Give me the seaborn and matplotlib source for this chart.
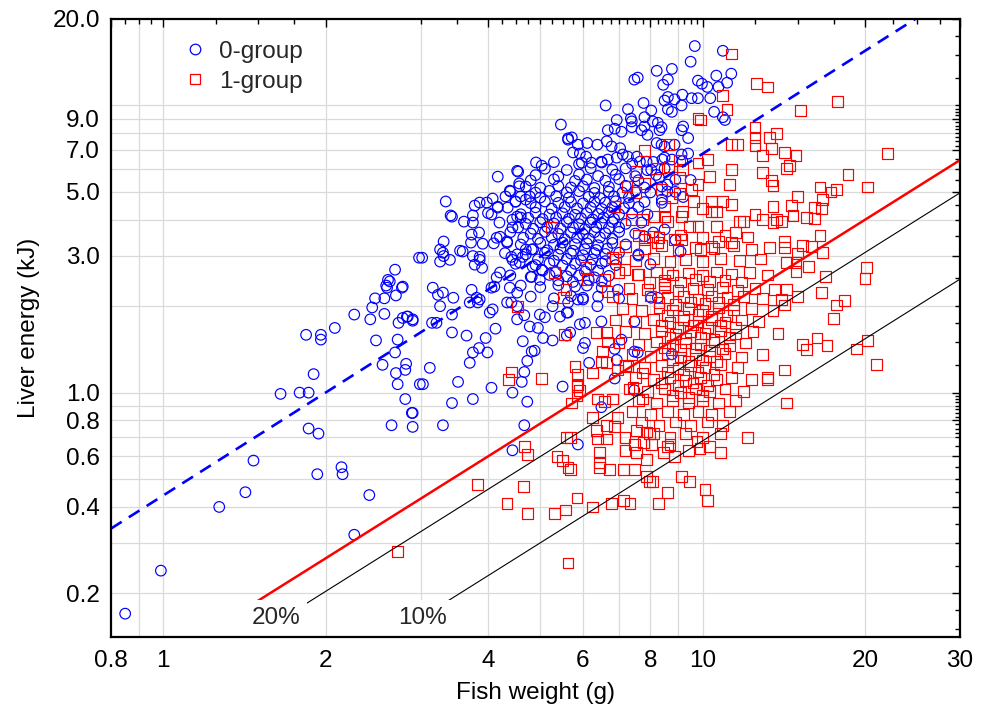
import numpy as np
import pandas as pd
import matplotlib
matplotlib.use("Agg")
import matplotlib.pyplot as plt
from matplotlib.lines import Line2D
from matplotlib.ticker import FixedLocator, FixedFormatter, NullFormatter
import seaborn as sns

# ---------------------------------------------------------------------------
# Data: (fish weight in g, liver energy in kJ)
# ---------------------------------------------------------------------------
group0_small = [
    (0.85, 0.17), (0.99, 0.24), (1.27, 0.40), (1.42, 0.45), (1.47, 0.58),
    (1.65, 0.99), (1.79, 1.00), (1.86, 1.00), (1.90, 1.16), (1.84, 1.59),
    (1.96, 1.59), (1.96, 1.53), (2.08, 1.68), (1.86, 0.75), (1.94, 0.72),
    (1.93, 0.52), (2.14, 0.55), (2.15, 0.52), (2.41, 0.44), (2.26, 0.32),
    (2.26, 1.87), (2.42, 1.80), (2.44, 1.98), (2.48, 1.52), (2.47, 2.13),
    (2.57, 2.13), (2.57, 1.88), (2.55, 1.25), (2.60, 2.32), (2.59, 2.36),
    (2.61, 2.47), (2.63, 2.44), (2.69, 2.68), (2.70, 2.18), (2.77, 2.32),
    (2.69, 1.38), (2.70, 1.17), (2.82, 1.26), (2.81, 1.20), (2.72, 1.53),
    (2.72, 1.07), (2.81, 0.95), (2.89, 0.85), (2.90, 0.85), (2.65, 0.77),
    (2.90, 0.76), (2.73, 1.75), (2.78, 1.82), (2.84, 1.84), (2.90, 1.78),
    (2.98, 2.95), (2.99, 1.07),
]

group0_mid = [
    (5.46, 8.58), (5.63, 7.68), (4.91, 6.33), (5.03, 6.17), (4.17, 5.65),
    (4.53, 5.92), (4.55, 5.88), (4.57, 5.35), (4.57, 5.23), (4.39, 5.05),
    (4.31, 4.82), (4.17, 4.44), (4.08, 4.74), (3.98, 4.59), (3.86, 4.59),
    (3.78, 4.48), (3.34, 4.63), (3.41, 4.14), (3.43, 4.10), (3.61, 3.94),
    (3.75, 4.14), (3.75, 3.91), (4.06, 4.17), (4.17, 4.41), (4.35, 4.41),
    (4.50, 4.63), (4.70, 4.70), (4.78, 4.82), (4.44, 4.00), (4.53, 4.10),
    (4.60, 4.07), (4.44, 3.76), (4.21, 3.49), (4.15, 3.46), (4.34, 3.36),
    (4.34, 3.33), (3.73, 3.55), (3.85, 3.61), (3.72, 3.33), (3.91, 3.30),
    (3.26, 3.15), (3.31, 3.36), (3.30, 3.07), (3.40, 2.90), (3.26, 2.86),
    (3.31, 2.99), (3.02, 2.95), (3.55, 3.12), (3.59, 3.10), (3.75, 2.99),
    (3.86, 2.97), (3.78, 2.79), (3.90, 2.72), (3.86, 2.90), (4.42, 2.97),
    (4.44, 2.90), (4.53, 3.03), (4.64, 2.97), (4.58, 2.84), (4.70, 3.15),
    (4.82, 3.15), (4.84, 2.75), (5.03, 2.68), (4.82, 2.53), (4.99, 2.47),
    (4.21, 2.62), (4.15, 2.52), (4.06, 2.32), (4.11, 2.34), (4.39, 2.32),
    (4.53, 2.23), (4.34, 2.06), (4.42, 2.06), (3.16, 2.32), (3.23, 2.19),
    (3.30, 2.23), (3.26, 2.00), (3.45, 2.14), (3.73, 2.28), (3.70, 2.06),
    (3.86, 2.11), (3.81, 2.14), (2.78, 2.34), (3.43, 1.87), (3.83, 2.06),
    (4.03, 1.90), (4.08, 1.95), (4.53, 2.00), (4.53, 1.80), (4.67, 1.86),
    (4.78, 1.70), (4.95, 1.68), (4.99, 1.87), (5.10, 1.83), (5.27, 2.00),
    (5.44, 1.84), (5.60, 1.90), (3.43, 1.62), (3.65, 1.58), (4.13, 1.67),
    (3.96, 1.55), (4.64, 1.51), (5.06, 1.55), (5.27, 1.52), (5.60, 1.58),
    (3.85, 1.43), (3.75, 1.38), (3.99, 1.38), (3.70, 1.27), (4.82, 1.39),
    (4.88, 1.40), (4.73, 1.29), (4.67, 1.18), (4.62, 1.09), (4.44, 1.00),
    (4.73, 0.93), (4.67, 0.77), (4.44, 0.63), (4.06, 1.04), (3.75, 0.95),
    (3.43, 0.92), (3.30, 0.77), (3.52, 1.09), (3.12, 1.22), (3.03, 1.07),
    (2.83, 1.84), (2.90, 1.80), (3.15, 1.75), (3.21, 1.75), (5.50, 1.05),
]

group0_top = [
    (9.67, 16.1), (10.9, 15.5), (9.5, 14.2), (8.22, 13.2), (8.77, 13.4),
    (7.47, 12.3), (7.58, 12.5), (8.62, 12.3), (8.45, 11.8), (9.8, 12.2),
    (9.97, 11.9), (10.2, 11.6), (10.6, 12.7), (11.3, 12.9), (11.1, 12.0),
    (10.7, 11.6), (9.17, 10.9), (9.54, 10.6), (9.80, 10.6), (10.33, 10.6),
    (8.5, 10.4), (8.62, 10.7), (8.87, 10.5), (8.62, 9.7), (8.77, 9.5),
    (9.14, 10.0), (7.77, 10.2), (8.03, 9.6), (7.27, 9.7), (6.61, 10.0),
    (10.5, 9.5), (10.9, 9.1), (11.0, 8.9), (6.93, 8.9), (7.36, 9.0),
    (7.39, 8.8), (7.80, 9.1), (8.08, 8.8), (8.26, 8.7), (8.39, 8.4),
    (8.32, 8.2), (7.80, 8.45), (7.9, 7.9), (7.7, 8.2), (9.2, 8.45),
    (9.14, 8.2), (9.4, 7.7), (6.67, 8.2), (6.87, 8.3), (7.07, 8.1),
    (7.39, 8.4), (5.72, 7.74), (5.63, 7.6), (5.87, 7.3), (6.11, 7.4),
    (6.38, 7.3), (6.64, 7.5), (6.78, 7.2), (7.03, 7.1), (8.22, 7.4),
    (8.39, 7.3), (8.5, 7.2), (8.87, 7.3), (9.14, 6.75), (9.4, 6.8),
    (9.17, 6.4), (5.75, 6.86), (5.92, 6.80), (6.08, 6.63), (6.22, 6.32),
    (6.49, 6.37), (5.97, 6.32), (6.67, 6.48), (6.93, 6.58), (7.11, 6.75),
    (7.27, 6.63), (7.55, 6.63), (7.65, 6.37), (7.87, 6.37), (8.03, 5.97),
    (8.42, 6.48), (8.5, 6.58), (8.77, 6.48),
]

group0_core = [
    (5.3, 6.35), (5.9, 6.25), (6.5, 6.33), (7.4, 6.27), (8.1, 6.36),
    (5.1, 6.02), (5.6, 5.96), (6.2, 6.05), (6.8, 5.97), (7.2, 6.04), (7.9, 5.95), (8.5, 6.03),
    (4.9, 5.72), (5.4, 5.66), (5.9, 5.75), (6.4, 5.68), (6.9, 5.74), (7.5, 5.67), (8.2, 5.73),
    (4.8, 5.48), (5.3, 5.53), (5.8, 5.46), (6.1, 5.52), (6.6, 5.47), (7.0, 5.54), (7.6, 5.49), (8.9, 5.51),
    (4.7, 5.22), (5.0, 5.17), (5.4, 5.24), (5.7, 5.18), (6.0, 5.23), (6.3, 5.16), (6.7, 5.21),
    (7.2, 5.25), (7.8, 5.18), (8.4, 5.22),
    (4.4, 5.02), (4.9, 4.97), (5.2, 5.04), (5.6, 4.98), (5.9, 5.03), (6.3, 4.96), (6.7, 5.01),
    (7.1, 4.97), (7.5, 5.04), (8.0, 4.98), (8.6, 5.02),
    (4.6, 4.82), (5.0, 4.78), (5.35, 4.83), (5.65, 4.77), (6.15, 4.81), (6.45, 4.76), (6.85, 4.82), (7.3, 4.79),
    (4.5, 4.62), (4.8, 4.57), (5.1, 4.63), (5.4, 4.58), (5.7, 4.61), (6.0, 4.56), (6.3, 4.62),
    (6.6, 4.59), (6.9, 4.64), (7.3, 4.57), (7.8, 4.61), (8.4, 4.58),
    (4.9, 4.42), (5.25, 4.37), (5.55, 4.43), (5.85, 4.38), (6.2, 4.41), (6.5, 4.36), (6.8, 4.42),
    (7.15, 4.39), (7.6, 4.43),
    (4.0, 4.22), (4.6, 4.18), (4.9, 4.23), (5.2, 4.17), (5.5, 4.21), (5.8, 4.16), (6.1, 4.22),
    (6.4, 4.19), (6.7, 4.24), (7.0, 4.18), (7.4, 4.21), (7.9, 4.17),
    (4.75, 4.06), (5.05, 4.02), (5.35, 4.07), (5.65, 4.03), (5.95, 4.05), (6.25, 4.01), (6.55, 4.07), (6.85, 4.03),
    (4.2, 3.91), (4.7, 3.87), (5.0, 3.92), (5.3, 3.88), (5.6, 3.93), (5.9, 3.86), (6.2, 3.91),
    (6.5, 3.88), (6.8, 3.93), (7.2, 3.87), (7.7, 3.91),
    (4.55, 3.76), (4.85, 3.72), (5.15, 3.77), (5.45, 3.73), (5.75, 3.76), (6.05, 3.71), (6.35, 3.77),
    (6.7, 3.74), (7.0, 3.76),
    (4.4, 3.62), (4.8, 3.58), (5.1, 3.63), (5.4, 3.57), (5.7, 3.61), (6.0, 3.56), (6.3, 3.62),
    (6.6, 3.59), (7.0, 3.63), (7.5, 3.58), (8.1, 3.61),
    (4.65, 3.46), (4.95, 3.43), (5.25, 3.47), (5.55, 3.42), (5.85, 3.46), (6.15, 3.44), (6.45, 3.47), (6.8, 3.43),
    (4.1, 3.31), (4.6, 3.28), (5.0, 3.32), (5.3, 3.27), (5.5, 3.33), (5.8, 3.29), (6.1, 3.31),
    (6.4, 3.26), (6.8, 3.32), (7.2, 3.28),
    (4.85, 3.16), (5.15, 3.13), (5.45, 3.17), (5.75, 3.12), (6.05, 3.16), (6.35, 3.14), (6.65, 3.17),
    (4.3, 3.06), (4.7, 3.03), (5.1, 3.07), (5.4, 3.02), (5.7, 3.05), (6.0, 3.01), (6.3, 3.06),
    (6.6, 3.04), (7.0, 3.07), (7.6, 3.03),
    (4.95, 2.91), (5.3, 2.88), (5.6, 2.92), (5.95, 2.89), (6.25, 2.91), (6.6, 2.87),
    (4.5, 2.81), (4.9, 2.78), (5.2, 2.82), (5.5, 2.77), (5.8, 2.81), (6.2, 2.79), (6.5, 2.82), (6.9, 2.78),
    (5.05, 2.66), (5.35, 2.63), (5.7, 2.67), (6.05, 2.64), (6.4, 2.66),
    (4.4, 2.56), (4.8, 2.53), (5.2, 2.57), (5.6, 2.54), (5.9, 2.56), (6.3, 2.52), (6.7, 2.55),
    (5.4, 2.46), (5.75, 2.43), (6.15, 2.47), (6.5, 2.44),
    (4.6, 2.36), (5.0, 2.33), (5.4, 2.37), (5.8, 2.34), (6.1, 2.36), (6.5, 2.32),
    (4.8, 2.16), (5.3, 2.13), (5.7, 2.17), (6.0, 2.14), (6.4, 2.16), (7.0, 2.13),
]

group0_edge = [
    (5.63, 2.06), (5.63, 1.90), (5.87, 2.11), (6.0, 2.11), (6.38, 2.0),
    (6.49, 1.77), (5.92, 1.73), (6.05, 1.75), (5.68, 1.62), (6.05, 1.49),
    (6.0, 1.43), (6.16, 1.27), (6.87, 1.42), (6.93, 1.30), (7.07, 1.53),
    (7.47, 1.39), (7.58, 1.38), (7.47, 1.77), (6.87, 1.12), (7.47, 1.02),
    (6.49, 0.89), (5.87, 0.66), (8.77, 1.36), (6.96, 2.28), (8.03, 2.14),
    (8.26, 2.14), (8.3, 5.6), (8.6, 5.3), (8.9, 5.0), (9.2, 4.8),
    (8.4, 4.7), (9.5, 5.5), (8.5, 3.7), (8.9, 3.4), (9.1, 3.1),
    (7.8, 3.5), (7.6, 3.0), (8.0, 2.8),
]

group1_low = [
    (2.72, 0.28), (3.83, 0.48), (4.42, 1.18), (4.37, 1.11), (5.03, 1.12),
    (4.67, 0.65), (4.74, 0.61), (5.37, 0.60), (5.50, 0.58), (5.60, 0.70),
    (5.63, 0.55), (4.66, 0.47), (4.34, 0.41), (4.74, 0.38), (5.31, 0.38),
    (5.56, 0.39), (5.63, 0.255), (4.53, 2.0), (5.55, 1.59), (5.25, 3.76),
    (5.31, 2.62), (5.58, 2.28), (5.53, 2.14), (5.85, 0.43), (6.25, 0.40),
    (6.78, 0.41), (7.14, 0.42), (7.33, 0.41), (8.29, 0.41), (8.62, 0.45),
    (9.14, 0.51), (9.46, 0.49), (10.1, 0.46), (10.2, 0.42), (7.87, 0.51),
    (7.98, 0.49), (8.08, 0.49), (10.8, 0.62), (5.68, 0.54), (6.44, 0.62),
    (6.44, 0.57), (6.44, 0.55), (6.72, 0.54), (7.14, 0.54), (7.47, 0.54),
    (7.87, 0.585), (6.38, 0.69), (6.64, 0.69), (7.18, 0.63), (7.55, 0.62),
    (7.47, 0.66), (8.03, 0.66), (8.45, 0.62), (8.70, 0.66), (8.87, 0.60),
    (9.76, 0.675), (9.89, 0.64), (12.1, 0.70), (14.2, 1.20), (13.2, 1.13),
    (13.2, 1.11), (14.3, 0.92),
]

group1_mid = [
    (6.35, 1.62), (6.64, 1.62), (6.67, 1.50), (6.52, 1.39), (5.80, 1.23),
    (5.87, 1.16), (5.85, 1.05), (5.85, 0.98), (6.25, 1.17), (6.49, 1.28),
    (6.64, 1.27), (6.38, 0.95), (6.58, 0.93), (6.81, 0.95), (6.25, 0.82),
    (6.35, 0.74), (6.64, 0.77), (6.87, 0.76), (6.96, 0.82), (5.68, 0.70),
    (5.72, 0.92), (5.92, 1.02), (5.87, 1.07), (6.96, 1.20), (7.27, 1.23),
    (7.73, 1.17), (7.43, 1.04), (7.73, 0.95), (7.18, 0.70), (7.55, 0.74),
    (7.87, 0.73), (7.77, 0.67), (7.98, 0.72),
]

group1_upper = [
    (11.3, 15.1), (10.9, 10.8), (11.1, 9.7), (9.8, 9.0), (9.9, 8.9),
    (8.66, 7.3), (7.8, 6.96), (11.3, 7.3), (11.6, 7.3), (10.2, 6.5),
    (9.8, 6.3), (9.06, 6.43), (8.66, 6.13), (8.22, 6.03), (9.17, 5.97),
    (9.06, 5.61), (7.52, 5.88), (7.24, 5.21), (7.52, 4.98), (7.80, 5.34),
    (8.39, 5.09), (9.06, 4.94), (8.77, 4.77), (10.3, 5.66), (11.3, 5.97),
    (11.2, 5.31), (9.8, 5.31), (9.54, 5.09), (6.87, 4.44), (7.39, 4.0),
    (7.73, 4.0), (8.5, 4.44), (8.5, 4.1), (8.62, 3.94), (8.14, 4.1),
    (9.14, 4.1), (9.17, 4.27), (9.63, 4.63), (10.0, 4.37), (10.4, 4.63),
    (10.4, 4.27), (10.6, 4.27), (10.9, 4.63), (11.3, 4.52), (11.7, 3.94),
    (10.6, 3.79), (9.8, 3.79), (9.46, 3.79), (7.80, 3.41), (8.08, 3.49),
    (8.26, 3.33), (8.87, 3.41), (9.14, 3.41), (9.9, 3.15), (10.4, 3.23),
    (10.7, 3.36), (11.3, 3.33), (11.5, 3.61), (6.81, 2.95), (6.08, 2.72),
    (6.58, 2.47), (6.11, 2.47), (6.67, 2.25), (7.18, 2.68), (7.58, 2.58),
    (7.98, 2.42), (8.5, 2.38), (8.62, 2.62),
]

group1_right = [
    (12.6, 11.9), (13.2, 11.6), (17.8, 10.3), (15.2, 9.6), (22.0, 6.8),
    (18.6, 5.74), (20.2, 5.2), (17.3, 5.0), (17.7, 5.1), (16.5, 5.2),
    (12.5, 8.37), (12.5, 7.74), (13.3, 7.74), (13.7, 8.0), (12.5, 7.25),
    (12.9, 6.7), (13.4, 7.1), (14.2, 6.86), (14.9, 6.7), (14.5, 6.17),
    (14.3, 6.03), (12.9, 5.85), (13.4, 5.47), (13.5, 5.26), (15.0, 4.82),
    (14.6, 4.48), (14.7, 4.14), (16.1, 4.41), (16.7, 4.70), (16.6, 4.37),
    (15.6, 4.07), (16.1, 4.04), (13.5, 4.44), (12.5, 4.17), (12.9, 4.0),
    (11.9, 3.94), (13.5, 3.91), (14.0, 3.94), (13.7, 4.0), (16.5, 3.52),
    (15.3, 3.25), (15.9, 3.23), (16.7, 3.07), (15.7, 2.75), (16.9, 2.53),
    (16.6, 2.23), (17.7, 2.02), (18.3, 2.09), (17.5, 1.81), (20.1, 2.73),
    (20.0, 2.49), (14.2, 3.20), (14.2, 3.36), (15.0, 3.05), (14.9, 2.84),
    (14.9, 2.64), (14.3, 2.84), (14.3, 2.28), (15.0, 2.16), (14.2, 2.02),
    (14.0, 2.11), (15.3, 1.47), (15.6, 1.41), (16.3, 1.55), (17.0, 1.46),
    (19.3, 1.42), (20.2, 1.52), (21.0, 1.25),
]

group1_core = [
    (7.6, 3.52), (8.3, 3.47), (9.1, 3.54), (10.0, 3.46), (11.0, 3.53), (12.1, 3.48),
    (7.2, 3.22), (7.8, 3.17), (8.4, 3.25), (9.0, 3.15), (9.7, 3.21), (10.5, 3.18), (11.4, 3.24),
    (12.3, 3.16), (13.3, 3.20),
    (6.9, 2.92), (7.5, 2.88), (8.1, 2.94), (8.7, 2.87), (9.3, 2.91), (10.0, 2.86), (10.8, 2.93),
    (11.7, 2.89), (12.8, 2.92),
    (7.0, 2.62), (7.6, 2.58), (8.2, 2.63), (8.8, 2.57), (9.4, 2.61), (10.0, 2.56), (10.6, 2.63),
    (11.3, 2.59), (12.2, 2.62), (13.2, 2.57),
    (8.5, 2.46), (9.1, 2.43), (9.7, 2.47), (10.3, 2.44), (11.0, 2.46), (11.8, 2.43),
    (7.3, 2.31), (7.9, 2.28), (8.5, 2.32), (9.0, 2.27), (9.6, 2.31), (10.2, 2.29), (10.9, 2.32),
    (11.6, 2.27), (12.5, 2.31), (13.6, 2.28),
    (6.8, 2.16), (7.4, 2.13), (8.0, 2.17), (8.6, 2.14), (9.2, 2.16), (9.8, 2.12), (10.4, 2.17),
    (11.1, 2.14), (11.9, 2.16), (12.9, 2.13),
    (8.3, 2.06), (8.9, 2.03), (9.5, 2.07), (10.1, 2.04), (10.7, 2.06), (11.4, 2.03),
    (7.1, 1.96), (7.7, 1.93), (8.3, 1.97), (8.8, 1.94), (9.4, 1.96), (10.0, 1.93), (10.7, 1.97),
    (11.4, 1.94), (12.3, 1.96), (13.5, 1.93),
    (8.6, 1.86), (9.2, 1.84), (9.8, 1.87), (10.4, 1.84), (11.1, 1.86),
    (6.9, 1.79), (7.5, 1.77), (8.1, 1.80), (8.7, 1.76), (9.2, 1.79), (9.8, 1.77), (10.4, 1.80),
    (11.0, 1.76), (11.8, 1.79), (12.7, 1.77),
    (8.4, 1.71), (9.0, 1.69), (9.6, 1.72), (10.2, 1.69), (10.8, 1.71), (11.5, 1.69),
    (7.2, 1.63), (7.8, 1.61), (8.4, 1.64), (8.9, 1.60), (9.5, 1.63), (10.1, 1.61), (10.8, 1.64),
    (11.5, 1.60), (12.4, 1.63), (13.8, 1.61),
    (8.7, 1.56), (9.3, 1.54), (9.9, 1.56), (10.5, 1.53), (11.2, 1.56),
    (7.0, 1.49), (7.6, 1.47), (8.2, 1.50), (8.8, 1.46), (9.3, 1.49), (9.9, 1.47), (10.5, 1.50),
    (11.2, 1.46), (12.0, 1.49),
    (8.5, 1.43), (9.1, 1.41), (9.7, 1.43), (10.3, 1.40), (10.9, 1.42),
    (7.4, 1.36), (8.0, 1.34), (8.6, 1.37), (9.1, 1.33), (9.7, 1.36), (10.3, 1.34), (11.0, 1.37),
    (11.8, 1.33), (12.9, 1.36),
    (8.8, 1.30), (9.4, 1.28), (10.0, 1.30), (10.6, 1.28),
    (7.2, 1.24), (7.8, 1.22), (8.4, 1.24), (9.0, 1.21), (9.5, 1.24), (10.1, 1.22), (10.8, 1.25), (11.6, 1.22),
    (8.6, 1.18), (9.2, 1.16), (9.8, 1.18), (10.5, 1.16),
    (7.5, 1.13), (8.1, 1.11), (8.7, 1.13), (9.3, 1.10), (9.9, 1.13), (10.6, 1.11), (11.3, 1.13), (12.3, 1.11),
    (8.4, 1.08), (9.0, 1.06), (9.6, 1.08), (10.2, 1.06),
    (7.3, 1.03), (7.9, 1.01), (8.5, 1.03), (9.1, 1.00), (9.7, 1.03), (10.3, 1.01), (11.0, 1.03), (11.9, 1.01),
    (8.8, 0.98), (9.4, 0.96), (10.0, 0.98),
    (7.6, 0.94), (8.2, 0.92), (8.8, 0.94), (9.4, 0.92), (10.0, 0.94), (10.7, 0.92), (11.5, 0.94),
    (7.4, 0.86), (8.0, 0.84), (8.6, 0.86), (9.2, 0.84), (9.8, 0.86), (10.4, 0.84), (11.2, 0.86),
    (7.7, 0.79), (8.3, 0.77), (8.9, 0.79), (9.5, 0.77), (10.2, 0.79), (10.9, 0.77),
    (8.1, 0.72), (8.7, 0.70), (9.3, 0.72), (10.0, 0.70), (10.8, 0.72),
    (8.6, 0.65), (9.4, 0.63), (10.3, 0.65),
]

# Power-law relations E = a * W**b and the weight range each is drawn over
fit0 = dict(a=0.4385, b=1.19, w_from=0.8, w_to=30.0)     # 0-group regression
fit1 = dict(a=0.117, b=1.179, w_from=1.5, w_to=30.0)     # 1-group regression
ref20 = dict(a=0.0897, b=1.18, w_from=1.8, w_to=30.0)    # 20 % reference
ref10 = dict(a=0.0449, b=1.18, w_from=3.3, w_to=30.0)    # 10 % reference

# Axis ticks
x_major = [0.8, 1, 2, 4, 6, 8, 10, 20, 30]
x_major_labels = ["0.8", "1", "2", "4", "6", "8", "10", "20", "30"]
x_minor = [0.85, 0.9, 0.95, 1.25, 1.5, 1.75, 3, 3.5,
           4.25, 4.5, 4.75, 5, 5.25, 5.5, 5.75, 6.25, 6.5, 6.75, 7, 7.25, 7.5, 7.75,
           8.25, 8.5, 8.75, 9, 9.25, 9.5, 9.75, 12.5, 15, 17.5, 22.5, 25, 27.5]
y_major = [0.2, 0.4, 0.6, 0.8, 1.0, 3.0, 5.0, 7.0, 9.0, 20.0]
y_major_labels = ["0.2", "0.4", "0.6", "0.8", "1.0", "3.0", "5.0", "7.0", "9.0", "20.0"]
y_minor = [0.15, 0.175, 0.25, 0.3, 0.35, 0.45, 0.5, 0.55, 0.65, 0.7, 0.725, 0.75, 0.775,
           0.825, 0.85, 0.875, 0.9, 0.925, 0.95, 0.975, 1.25, 1.5, 1.75, 2, 2.5,
           3.5, 4, 4.5, 5.5, 6, 6.5, 7.25, 7.5, 7.75, 8, 8.25, 8.5, 8.75,
           9.25, 9.5, 9.75, 10, 12.5, 15, 17.5]
x_grid = [0.9, 1, 2, 3, 4, 5, 6, 7, 8, 9, 10, 20]
y_grid = [0.2, 0.3, 0.4, 0.5, 0.6, 0.7, 0.8, 0.9, 1, 2, 3, 4, 5, 6, 7, 8, 9, 10]


def to_frame(*chunks):
    pts = [p for chunk in chunks for p in chunk]
    return pd.DataFrame(pts, columns=["weight", "energy"])


df0 = to_frame(group0_small, group0_mid, group0_top, group0_core, group0_edge)
df1 = to_frame(group1_low, group1_mid, group1_upper, group1_right, group1_core)

# ---------------------------------------------------------------------------
sns.set_style("white")
plt.rcParams["font.family"] = ["Liberation Sans", "DejaVu Sans"]
FS = 17.5

fig = plt.figure(figsize=(9.89, 7.25), dpi=100)
ax = fig.add_axes([0.1122, 0.1214, 0.8585, 0.8524])
ax.set_xscale("log")
ax.set_yscale("log")

for v in x_grid:
    ax.axvline(v, color="#dadada", lw=0.9, zorder=0)
for v in y_grid:
    ax.axhline(v, color="#dadada", lw=0.9, zorder=0)

sns.scatterplot(data=df0, x="weight", y="energy", marker="o", s=58,
                facecolors="none", edgecolor="#0000ff", linewidth=0.85,
                ax=ax, zorder=3, legend=False)
sns.scatterplot(data=df1, x="weight", y="energy", marker="s", s=60,
                facecolors="none", edgecolor="#ff0000", linewidth=0.85,
                ax=ax, zorder=3, legend=False)
blue_pts, red_pts = ax.collections[0], ax.collections[1]
blue_pts.set_facecolor("none"); blue_pts.set_edgecolor("#0000ff")
red_pts.set_facecolor("none"); red_pts.set_edgecolor("#ff0000")


def draw_power(fit, **kw):
    w = np.geomspace(fit["w_from"], fit["w_to"], 200)
    ax.plot(w, fit["a"] * w ** fit["b"], **kw)


draw_power(fit0, color="#0000ff", lw=1.9, ls=(0, (4.8, 3.2)), zorder=4)
draw_power(fit1, color="#ff0000", lw=1.8, zorder=4)
draw_power(ref20, color="black", lw=0.8, zorder=4)
draw_power(ref10, color="black", lw=0.8, zorder=4)

label_box = dict(boxstyle="square,pad=0.28", fc="white", ec="none")
ax.text(1.62, 0.164, "20%", ha="center", va="center", fontsize=FS,
        bbox=label_box, zorder=6)
ax.text(3.02, 0.164, "10%", ha="center", va="center", fontsize=FS,
        bbox=label_box, zorder=6)

ax.set_xlim(0.8, 30)
ax.set_ylim(0.141, 20)

ax.xaxis.set_major_locator(FixedLocator(x_major))
ax.xaxis.set_major_formatter(FixedFormatter(x_major_labels))
ax.xaxis.set_minor_locator(FixedLocator(x_minor))
ax.xaxis.set_minor_formatter(NullFormatter())
ax.yaxis.set_major_locator(FixedLocator(y_major))
ax.yaxis.set_major_formatter(FixedFormatter(y_major_labels))
ax.yaxis.set_minor_locator(FixedLocator(y_minor))
ax.yaxis.set_minor_formatter(NullFormatter())

ax.tick_params(which="both", direction="in", top=True, right=True,
               color="black", width=1.0)
ax.tick_params(which="major", length=6, labelsize=FS, labelcolor="black")
ax.tick_params(axis="y", which="major", pad=8)
ax.tick_params(axis="x", which="major", pad=9.5)
ax.tick_params(which="minor", length=3.5)

for sp in ax.spines.values():
    sp.set_visible(True)
    sp.set_color("black")
    sp.set_linewidth(1.6)
    sp.set_zorder(7)

ax.set_xlabel("Fish weight (g)", fontsize=FS, color="black", labelpad=7)
ax.set_ylabel("Liver energy (kJ)", fontsize=FS, color="black", labelpad=9)

handles = [
    Line2D([], [], ls="", marker="o", ms=7.6, mfc="none", mec="#0000ff", mew=0.9),
    Line2D([], [], ls="", marker="s", ms=7.7, mfc="none", mec="#ff0000", mew=0.9),
]
ax.legend(handles, ["0-group", "1-group"], loc="upper left",
          bbox_to_anchor=(0.0848, 0.9645), frameon=False, fontsize=FS,
          handlelength=1.0, handletextpad=0.5, borderpad=0.0,
          borderaxespad=0.0, labelspacing=0.33)

fig.savefig("out.png", dpi=100)
